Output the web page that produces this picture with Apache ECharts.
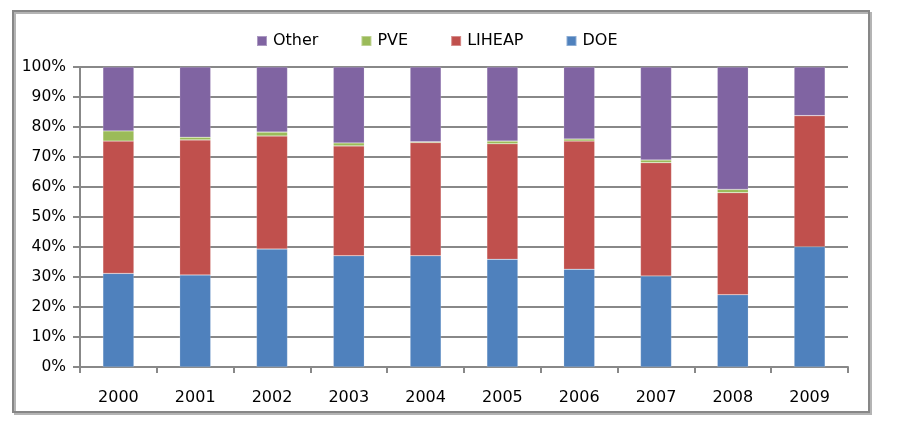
<!DOCTYPE html>
<html>
<head>
<meta charset="utf-8">
<script src="https://cdn.jsdelivr.net/npm/echarts@6/dist/echarts.min.js"></script>
<style>html,body{margin:0;padding:0;background:#fff;}#chart{width:904px;height:426px;}</style>
</head>
<body>
<div id="chart"></div>
<script>
const categories = ['2000','2001','2002','2003','2004','2005','2006','2007','2008','2009'];
const doe    = [31.2, 30.7, 39.3, 37.1, 37.1, 35.9, 32.6, 30.3, 24.1, 40.1];
const liheap = [44.1, 45.0, 37.7, 36.6, 37.7, 38.5, 42.7, 37.8, 34.0, 43.7];
const pve    = [3.4, 0.9, 1.3, 1.0, 0.3, 0.9, 0.7, 0.9, 1.1, 0.0];
const other  = [21.3, 23.4, 21.7, 25.3, 24.9, 24.7, 24.0, 31.0, 40.8, 16.2];
const yTicks = [0,10,20,30,40,50,60,70,80,90,100];

const font = '"DejaVu Sans", Verdana, sans-serif';
const chart = echarts.init(document.getElementById('chart'), null, {renderer:'canvas'});
const mk = (name, data, color) => ({
  name, type:'bar', stack:'total', data, barWidth: 31,
  itemStyle:{color, borderColor:'rgba(255,255,255,0.35)', borderWidth:0.5},
  emphasis:{disabled:true}
});
chart.setOption({
  animation:false,
  graphic:[
    {type:'rect', shape:{x:15, y:13, width:856, height:401}, style:{fill:'none', stroke:'#b4b4b4', lineWidth:2}, z:-2},
    {type:'rect', shape:{x:13, y:11, width:856, height:401}, style:{fill:'none', stroke:'#878787', lineWidth:2}, z:-1}
  ],
  legend:{
    top:28, left:251, itemWidth:10, itemHeight:10, itemGap:42,
    icon:'rect',
    textStyle:{fontFamily:font, fontSize:16, color:'#000', padding:[0,0,0,1]},
    data:['Other','PVE','LIHEAP','DOE']
  },
  grid:{left:80, right:56, top:67, bottom:59, containLabel:false},
  xAxis:{
    type:'category', data:categories,
    axisLine:{lineStyle:{color:'#888', width:2}},
    axisTick:{show:true, length:6, lineStyle:{color:'#888', width:2}},
    axisLabel:{fontFamily:font, fontSize:16, color:'#000', margin:23}
  },
  yAxis:{
    type:'value', min:0, max:100, interval:10,
    axisLine:{show:true, lineStyle:{color:'#888', width:2}},
    axisTick:{show:true, length:7, lineStyle:{color:'#888', width:2}},
    splitLine:{lineStyle:{color:'#888', width:2}},
    axisLabel:{fontFamily:font, fontSize:15.5, color:'#000', margin:14,
      formatter: v => yTicks.includes(v) ? v + '%' : ''}
  },
  series:[
    mk('DOE', doe, '#4f81bd'),
    mk('LIHEAP', liheap, '#c0504d'),
    mk('PVE', pve, '#9bbb59'),
    mk('Other', other, '#8064a2')
  ]
});
</script>
</body>
</html>
